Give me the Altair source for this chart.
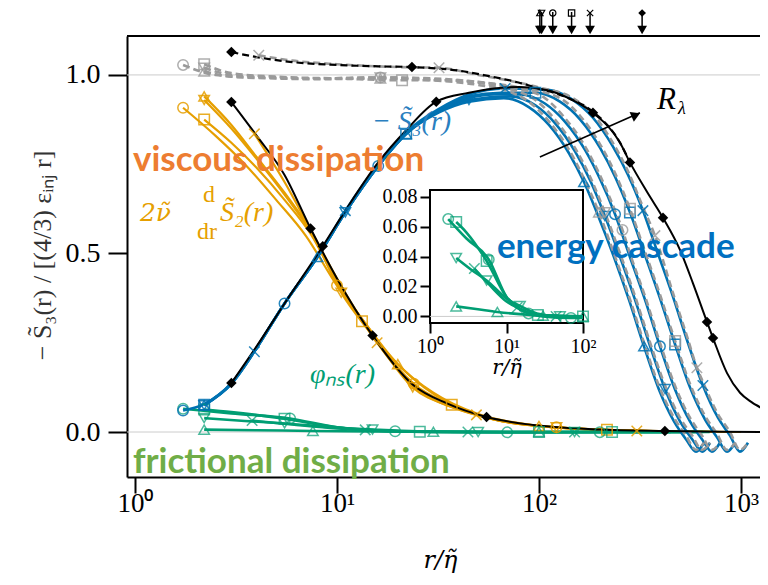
import altair as alt
import pandas as pd

# ---------------- data (r / eta~ , value) ----------------
# simulations: A=triangle-up, B=triangle-down, C=circle, D=square, E=cross, F=black diamond
S3_A = [(2.2,0.075),(3,0.135),(4,0.235),(5.5,0.36),(8,0.49),(11,0.615),(16,0.745),(22,0.835),(32,0.895),(45,0.925),(67,0.935),(89,0.91),(112,0.86),(141,0.78),(167,0.70),(198,0.60),(235,0.49),(279,0.37),(331,0.24),(392,0.12),(466,0.03),(534,-0.02),(599,-0.055),(656,-0.03)]
S3_A_MK = [2.2, 8, 22, 167, 331]
S3_B = [(2.2,0.075),(3,0.135),(4,0.235),(5.5,0.36),(8,0.49),(11,0.615),(16,0.745),(22,0.835),(32,0.9),(45,0.93),(72,0.94),(96,0.915),(120,0.865),(151,0.785),(179,0.705),(212,0.605),(252,0.49),(299,0.37),(355,0.24),(421,0.12),(499,0.03),(573,-0.02),(642,-0.055),(703,-0.03)]
S3_B_MK = [2.2, 11, 45, 212, 421]
S3_C = [(1.73,0.06),(2.2,0.078),(3,0.137),(4,0.236),(5.5,0.36),(8,0.49),(11,0.615),(16,0.745),(22,0.835),(32,0.9),(45,0.935),(60,0.945),(80,0.945),(107,0.92),(134,0.87),(169,0.79),(200,0.71),(238,0.61),(282,0.49),(335,0.37),(397,0.24),(471,0.12),(559,0.03),(641,-0.02),(718,-0.055),(787,-0.03)]
S3_C_MK = [1.73, 5.5, 16, 238, 397]
S3_D = [(2.2,0.076),(3,0.136),(4,0.236),(5.5,0.36),(8,0.49),(11,0.615),(16,0.745),(22,0.835),(32,0.9),(45,0.94),(65,0.95),(96,0.95),(127,0.925),(160,0.875),(201,0.795),(238,0.715),(282,0.615),(335,0.495),(397,0.375),(472,0.245),(559,0.125),(664,0.035),(761,-0.015),(853,-0.055),(935,-0.03)]
S3_D_MK = [2.2, 22, 96, 282, 472]
S3_E = [(3.9,0.225),(5.5,0.36),(8,0.49),(11,0.62),(16,0.75),(22,0.84),(32,0.905),(45,0.945),(68,0.962),(111,0.958),(147,0.93),(185,0.88),(232,0.80),(276,0.72),(327,0.62),(388,0.50),(460,0.38),(546,0.25),(648,0.13),(769,0.04),(882,-0.01),(988,-0.055),(1083,-0.03)]
S3_E_MK = [3.9, 11, 68, 327, 648]
S3_F = [(3,0.137),(4,0.24),(5.5,0.36),(8.5,0.52),(11,0.62),(16,0.755),(22,0.845),(31,0.925),(45,0.95),(60,0.962),(80,0.966),(110,0.957),(140,0.935),(185,0.894),(252,0.81),(282,0.755),(343,0.672),(411,0.60),(499,0.51),(578,0.417),(679,0.308),(727,0.263),(853,0.165),(989,0.11),(1146,0.081),(1284,0.062),(1361,0.042)]
S3_F_MK = [3, 8.5, 31, 185, 282, 411, 679, 727]

VIS_A = [(2.2,0.94),(3,0.86),(4,0.77),(5.5,0.67),(7.5,0.56),(10,0.42),(14,0.3),(20,0.19),(30,0.11),(50,0.05),(100,0.017),(200,0.006),(400,0.002),(800,0.0)]
VIS_A_MK = [2.2, 20, 100]
VIS_B = [(2.2,0.93),(3,0.85),(4,0.765),(5.5,0.665),(7.5,0.555),(10.5,0.39),(15,0.27),(23.7,0.125),(37,0.07),(60,0.035),(122,0.013),(250,0.005),(500,0.001),(900,0.0)]
VIS_B_MK = [2.2, 10.5, 23.7, 122]
VIS_C = [(1.73,0.908),(2.5,0.83),(3.5,0.75),(5,0.65),(7,0.55),(10,0.41),(14,0.3),(20,0.18),(24,0.135),(37,0.075),(60,0.035),(122,0.013),(217,0.006),(400,0.002),(800,0.0)]
VIS_C_MK = [1.73, 10, 24, 122]
VIS_D = [(2.2,0.875),(3,0.81),(4,0.74),(5.5,0.65),(7.5,0.55),(10,0.42),(13.3,0.31),(20,0.19),(37,0.076),(60,0.035),(120,0.013),(217,0.006),(500,0.001),(900,0.0)]
VIS_D_MK = [2.2, 13.3, 37, 217]
VIS_E = [(3.9,0.835),(5.5,0.7),(7.5,0.56),(10,0.43),(15.8,0.25),(24,0.13),(49,0.048),(100,0.017),(305,0.003),(700,0.0),(1000,0.0)]
VIS_E_MK = [3.9, 15.8, 49, 305]
VIS_F = [(3,0.924),(4,0.83),(5.5,0.72),(7.4,0.57),(10,0.43),(15,0.27),(24,0.13),(35,0.08),(55,0.042),(100,0.018),(200,0.007),(420,0.003),(800,0.001),(1400,0.0)]
VIS_F_MK = [3, 7.4, 15, 55, 420]

PHI_A = [(2.2,0.0067),(4,0.005),(7.6,0.003),(15,0.0015),(30,0.0005),(100,0.0),(450,0.0)]
PHI_A_MK = [2.2, 7.6, 30, 100]
PHI_B = [(2.2,0.039),(3.5,0.031),(5.5,0.024),(10,0.012),(15,0.007),(25,0.002),(50,0.0),(100,0.0),(150,0.0),(500,0.0)]
PHI_B_MK = [2.2, 5.5, 15, 50, 150]
PHI_C = [(1.73,0.065),(3,0.052),(5.86,0.038),(10,0.013),(19.4,0.002),(30,0.0),(69.6,-0.001),(100,-0.001),(200,-0.0005),(600,0.0)]
PHI_C_MK = [1.73, 5.86, 19.4, 69.6, 200]
PHI_D = [(2.2,0.063),(3,0.056),(5.5,0.037),(10,0.013),(15,0.005),(25.7,0.001),(100,0.0),(230,0.0),(650,0.0)]
PHI_D_MK = [2.2, 5.5, 25.7, 100, 230]
PHI_E = [(3.8,0.032),(6,0.021),(10,0.01),(13.8,0.006),(25,0.001),(44.5,0.0),(100,0.0),(150,0.0),(700,0.0)]
PHI_E_MK = [3.8, 13.8, 44.5, 150]

TOT_A = [(2.2,1.01),(3,0.995),(5,0.99),(8,0.988),(16.4,0.99),(30,0.985),(50,0.972),(70,0.955),(89,0.925),(112,0.87),(141,0.79),(167,0.71),(198,0.615),(235,0.5),(279,0.38),(331,0.25),(392,0.13),(466,0.04),(534,-0.01),(599,-0.05),(656,-0.03)]
TOT_A_MK = [2.2, 16.4, 198]
TOT_B = [(2.2,1.02),(3,1.0),(5,0.993),(8,0.99),(16.4,0.993),(30,0.988),(50,0.978),(72,0.96),(96,0.93),(120,0.875),(151,0.795),(179,0.715),(212,0.615),(252,0.5),(299,0.38),(355,0.25),(421,0.13),(499,0.04),(573,-0.01),(642,-0.05),(703,-0.03)]
TOT_B_MK = [2.2, 16.4, 212]
TOT_C = [(1.73,1.028),(2.5,1.0),(4,0.993),(8,0.99),(16.4,0.993),(30,0.99),(50,0.98),(80,0.96),(107,0.935),(134,0.88),(169,0.8),(200,0.72),(238,0.62),(259,0.566),(282,0.5),(335,0.38),(397,0.25),(471,0.13),(559,0.04),(641,-0.01),(718,-0.05),(787,-0.03)]
TOT_C_MK = [1.73, 16.4, 259]
TOT_D = [(2.2,1.03),(3,1.005),(5,0.995),(10,0.99),(21,0.985),(35,0.985),(55,0.978),(80,0.965),(127,0.935),(160,0.885),(201,0.805),(238,0.725),(282,0.625),(335,0.505),(397,0.385),(472,0.255),(559,0.135),(664,0.045),(761,-0.005),(853,-0.05),(935,-0.03)]
TOT_D_MK = [2.2, 21, 282, 472]
TOT_E = [(4.1,1.055),(6,1.04),(10,1.03),(20,1.022),(32,1.02),(50,1.0),(70,0.985),(100,0.965),(147,0.935),(185,0.89),(232,0.81),(276,0.73),(327,0.63),(375,0.55),(460,0.39),(546,0.26),(605,0.18),(648,0.14),(769,0.05),(882,0.0),(988,-0.05),(1083,-0.03)]
TOT_E_MK = [4.1, 32, 375, 605]
TOT_F = [(3,1.064),(4,1.05),(6,1.036),(10,1.028),(16,1.024),(23.5,1.022),(40,1.012),(55,0.998),(75,0.982),(100,0.962),(140,0.935),(185,0.897),(252,0.81),(282,0.755)]
TOT_F_MK = [3, 23.5]

# arrows on the top frame (one per simulation)
TOP_SIM = ["A", "B", "C", "D", "E", "F"]
TOP_R = [101, 103, 117, 145, 179, 324]

# annotations
BOLD_TEXT = ["viscous dissipation", "energy cascade", "frictional dissipation"]
BOLD_R = [0.977, 61.9, 0.977]
BOLD_V = [0.762, 0.518, -0.084]
BOLD_COLOR = ["#ED7D31", "#0070C0", "#70AD47"]

ITAL_TEXT = ["\u2212 S\u0303\u2083(r)", "S\u0303\u2082(r)", "\u03c6\u2099\u209b(r)", "R", "\u03bb"]
ITAL_R = [14.9, 2.635, 7.35, 384, 488]
ITAL_V = [0.868, 0.613, 0.16, 0.93, 0.905]
ITAL_SIZE = [28, 28, 28, 31, 18]
ITAL_COLOR = ["#2a7fc0", "#E69F00", "#009E73", "black", "black"]

NU_TEXT = ["2\u03bd\u0303"]
NU_R = [1.058]
NU_V = [0.613]

ROM_TEXT = ["d", "dr"]
ROM_R = [2.17, 2.03]
ROM_V = [0.663, 0.56]

ARROW_R = [101, 316]
ARROW_V = [0.77, 0.894]
HEAD_R = [297]
HEAD_V = [0.886]

# ---------------- build tables ----------------
SIMS = ["A", "B", "C", "D", "E", "F"]
SHAPES = ["triangle-up", "triangle-down", "circle", "square", "M-1,-1L1,1M1,-1L-1,1", "diamond"]

def build(series):
    rows = []
    for qty, sim, pts, mks in series:
        for i, (r, v) in enumerate(pts):
            rows.append(dict(r=r, v=v, sim=sim, qty=qty, o=i,
                             mk=int(any(abs(r - m) < 1e-9 for m in mks))))
    return pd.DataFrame(rows)

df = build([
    ("s3", "A", S3_A, S3_A_MK), ("s3", "B", S3_B, S3_B_MK), ("s3", "C", S3_C, S3_C_MK),
    ("s3", "D", S3_D, S3_D_MK), ("s3", "E", S3_E, S3_E_MK), ("s3", "F", S3_F, S3_F_MK),
    ("vis", "A", VIS_A, VIS_A_MK), ("vis", "B", VIS_B, VIS_B_MK), ("vis", "C", VIS_C, VIS_C_MK),
    ("vis", "D", VIS_D, VIS_D_MK), ("vis", "E", VIS_E, VIS_E_MK), ("vis", "F", VIS_F, VIS_F_MK),
    ("phi", "A", PHI_A, PHI_A_MK), ("phi", "B", PHI_B, PHI_B_MK), ("phi", "C", PHI_C, PHI_C_MK),
    ("phi", "D", PHI_D, PHI_D_MK), ("phi", "E", PHI_E, PHI_E_MK),
    ("tot", "A", TOT_A, TOT_A_MK), ("tot", "B", TOT_B, TOT_B_MK), ("tot", "C", TOT_C, TOT_C_MK),
    ("tot", "D", TOT_D, TOT_D_MK), ("tot", "E", TOT_E, TOT_E_MK), ("tot", "F", TOT_F, TOT_F_MK),
])

COLORS = {"s3": "#0072B2", "vis": "#E69F00", "phi": "#009E73", "tot": "#9a9a9a"}

XS = alt.Scale(type="log", domain=[0.913, 1242], nice=False)
YS = alt.Scale(domain=[-0.126, 1.109], nice=False, zero=False)
SHAPE = alt.Shape("sim:N", scale=alt.Scale(domain=SIMS, range=SHAPES), legend=None)

SERIF = "Liberation Serif"
MATHF = "DejaVu Serif"
sup = "datum.value == 1 ? '10\u2070' : datum.value == 10 ? '10\u00b9' : datum.value == 100 ? '10\u00b2' : '10\u00b3'"

x_axis = alt.Axis(values=[1, 10, 100, 1000], labelExpr=sup, tickSize=16, tickWidth=2,
                  tickColor="black", domainColor="black", domainWidth=2, labelFont=SERIF,
                  labelFontSize=27, labelColor="black", labelPadding=-3, labelFlush=False,
                  title="r/\u03b7\u0303", titleFont=MATHF, titleFontSize=24, titleFontStyle="italic",
                  titleFontWeight="normal", titleColor="black", titleX=313, titleY=83,
                  titleBaseline="middle", grid=False)
y_axis = alt.Axis(values=[0, 0.5, 1.0], format=".1f", tickSize=19, tickWidth=2, tickColor="black",
                  domainColor="black", domainWidth=2, labelFont=SERIF, labelFontSize=28,
                  labelColor="black", labelPadding=8,
                  title="\u2212 S\u0303\u2083(r) / [(4/3) \u03b5\u1d62\u2099\u2c7c r]",
                  titleFont=SERIF, titleFontSize=26, titleFontWeight="normal", titleColor="#333333",
                  titleAngle=270, titleX=-85, titleY=219, titleAlign="center",
                  titleBaseline="middle", grid=False)

# every main layer carries the same axis definitions, so they merge into one axis
X = alt.X("r:Q", scale=XS, axis=x_axis)
Y = alt.Y("v:Q", scale=YS, axis=y_axis)

def lines(qty, color, width, dash=None, black=False):
    sel = (df.qty == qty) & ((df.sim == "F") if black else (df.sim != "F"))
    kw = dict(color=color, strokeWidth=width, clip=True, interpolate="monotone")
    if dash:
        kw["strokeDash"] = dash
    return alt.Chart(df[sel]).mark_line(**kw).encode(x=X, y=Y, detail="sim:N", order="o:Q")

def markers(qty, color, opacity=0.85):
    sel = (df.qty == qty) & (df.sim != "F") & (df.mk == 1)
    return alt.Chart(df[sel]).mark_point(filled=False, size=110, strokeWidth=1.5, color=color,
                                         opacity=opacity, clip=True).encode(x=X, y=Y, shape=SHAPE)

grid_df = pd.DataFrame({"r": [1.0, 1000.0], "v": [0.0, 1.0]})
grid = alt.Chart(grid_df).mark_rule(color="#cccccc", strokeWidth=1).encode(
    y=Y, x=alt.value(0), x2=alt.value(633))
top_line = alt.Chart(grid_df.head(1)).mark_rule(color="black", strokeWidth=2).encode(
    y=alt.value(0), x=alt.value(0), x2=alt.value(633))

black_mk = alt.Chart(df[(df.sim == "F") & (df.mk == 1)]).mark_point(
    shape="diamond", filled=True, color="black", size=110, opacity=1, clip=True).encode(x=X, y=Y)

top_df = pd.DataFrame({"sim": TOP_SIM, "r": TOP_R})
top_stem = alt.Chart(top_df).mark_rule(color="black", strokeWidth=1.5).encode(
    x=X, y=alt.value(-24), y2=alt.value(-8))
top_head = alt.Chart(top_df).mark_point(shape="triangle-down", filled=True, color="black",
                                        size=95, opacity=1).encode(x=X, y=alt.value(-6))
top_sym = alt.Chart(top_df[top_df.sim != "F"]).mark_point(filled=False, color="black", size=40,
                                                          strokeWidth=1.2, opacity=1).encode(
    x=X, y=alt.value(-23), shape=SHAPE)
top_sym_f = alt.Chart(top_df[top_df.sim == "F"]).mark_point(shape="diamond", filled=True,
                                                            color="black", size=60, opacity=1).encode(
    x=X, y=alt.value(-23))

main = alt.layer(
    grid,
    lines("vis", COLORS["vis"], 2.2),
    lines("phi", COLORS["phi"], 2.6),
    lines("s3", COLORS["s3"], 2.6),
    lines("tot", COLORS["tot"], 2.6, dash=[7, 4]),
    lines("s3", "black", 2.0, black=True),
    lines("vis", "black", 2.0, black=True),
    lines("tot", "black", 2.2, dash=[7, 4], black=True),
    markers("vis", COLORS["vis"]),
    markers("phi", COLORS["phi"], 0.7),
    markers("s3", COLORS["s3"]),
    markers("tot", COLORS["tot"], 0.8),
    black_mk,
    top_line, top_stem, top_head, top_sym, top_sym_f,
)

# ---------------- inset ----------------
XI = alt.Scale(type="log", domain=[1, 100], range=[303, 456], nice=False)
YI = alt.Scale(domain=[-0.0044, 0.0844], range=[287, 154], nice=False, zero=False)
phi_in = df[(df.qty == "phi") & (df.r <= 100)]

xi_axis = alt.Axis(orient="bottom", offset=-154, values=[1, 10, 100], labelExpr=sup, tickSize=10,
                   tickWidth=2, tickColor="black", domain=False, labelFont=SERIF, labelFontSize=20,
                   labelColor="black", labelPadding=3, labelFlush=False, title="r/\u03b7\u0303",
                   titleFont=MATHF, titleFontSize=21, titleFontStyle="italic",
                   titleFontWeight="normal", titleColor="black", titlePadding=0, grid=False)
yi_axis = alt.Axis(orient="left", offset=-303, values=[0, 0.02, 0.04, 0.06, 0.08], format=".2f",
                   tickSize=10, tickWidth=2, tickColor="black", domain=False, labelFont=SERIF,
                   labelFontSize=20, labelColor="black", labelPadding=3, title=None, grid=False)
XIN = alt.X("r:Q", scale=XI, axis=xi_axis)
YIN = alt.Y("v:Q", scale=YI, axis=yi_axis)

frame_df = pd.DataFrame({"r": [1], "r2": [100], "v": [-0.0044], "v2": [0.0844]})
inset_frame = alt.Chart(frame_df).mark_rect(fill="white", stroke="black", strokeWidth=2).encode(
    x=XIN, x2="r2:Q", y=YIN, y2="v2:Q")
zero_df = pd.DataFrame({"r": [1], "r2": [100], "v": [0.0]})
inset_zero = alt.Chart(zero_df).mark_rule(color="#cccccc", strokeWidth=1).encode(
    x=XIN, x2="r2:Q", y=YIN)
inset_lines = alt.Chart(phi_in).mark_line(color=COLORS["phi"], strokeWidth=2.6,
                                          interpolate="monotone").encode(
    x=XIN, y=YIN, detail="sim:N", order="o:Q")
inset_mk = alt.Chart(phi_in[phi_in.mk == 1]).mark_point(filled=False, size=110, strokeWidth=1.5,
                                                      color=COLORS["phi"], opacity=0.7).encode(
    x=XIN, y=YIN, shape=SHAPE)
inset = alt.layer(inset_frame, inset_zero, inset_lines, inset_mk)

# ---------------- annotations ----------------
hidden = alt.Axis(labels=False, ticks=False, domain=False, title=None, grid=False)
XA = alt.X("r:Q", scale=XS, axis=hidden)
YA = alt.Y("v:Q", scale=YS, axis=hidden)

bold_df = pd.DataFrame({"r": BOLD_R, "v": BOLD_V, "t": BOLD_TEXT, "c": BOLD_COLOR})
ital_df = pd.DataFrame({"r": ITAL_R, "v": ITAL_V, "t": ITAL_TEXT, "s": ITAL_SIZE, "c": ITAL_COLOR})
nu_df = pd.DataFrame({"r": NU_R, "v": NU_V, "t": NU_TEXT})
rom_df = pd.DataFrame({"r": ROM_R, "v": ROM_V, "t": ROM_TEXT})
arrow_df = pd.DataFrame({"r": ARROW_R, "v": ARROW_V})
head_df = pd.DataFrame({"r": HEAD_R, "v": HEAD_V})

ann = alt.layer(
    alt.Chart(arrow_df).mark_line(color="black", strokeWidth=1.6).encode(x=XA, y=YA),
    alt.Chart(head_df).mark_point(shape="triangle", angle=66, filled=True, color="black",
                                  size=110, opacity=1).encode(x=XA, y=YA),
    alt.Chart(ital_df).mark_text(font=SERIF, fontStyle="italic", align="left",
                                 baseline="middle").encode(
        x=XA, y=YA, text="t:N", size=alt.Size("s:Q", scale=None),
        color=alt.Color("c:N", scale=None)),
    alt.Chart(nu_df).mark_text(font=MATHF, fontStyle="italic", fontSize=25, align="left",
                               baseline="middle", color="#E69F00").encode(x=XA, y=YA, text="t:N"),
    alt.Chart(rom_df).mark_text(font=SERIF, fontSize=24, align="left", baseline="middle",
                                color="#E69F00").encode(x=XA, y=YA, text="t:N"),
    alt.Chart(bold_df).mark_text(font="Lato", fontWeight="bold", fontSize=35, align="left",
                                 baseline="middle").encode(
        x=XA, y=YA, text="t:N", color=alt.Color("c:N", scale=None)),
)

chart = alt.layer(main, inset, ann).resolve_scale(x="independent", y="independent").properties(
    width=633, height=441,
    padding={"left": 119, "top": 28, "right": 0, "bottom": 96},
    autosize=alt.AutoSizeParams(type="none"),
).configure_view(stroke=None).configure_axis(grid=False)

chart.save("out.html", embed_options={"renderer": "svg", "actions": False})
